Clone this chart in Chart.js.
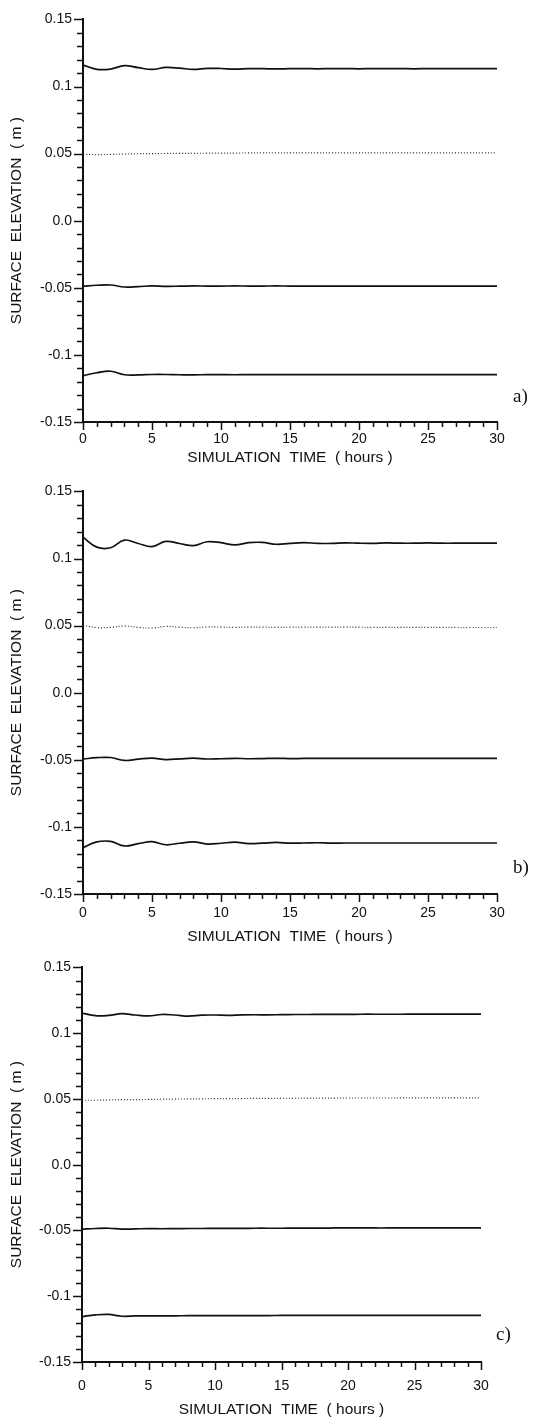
<!DOCTYPE html>
<html>
<head>
    <title>Surface Elevation</title>
    <script src="https://cdn.jsdelivr.net/npm/chart.js"></script>
    <style>
        body { margin: 0; background: #fff; }
        .panel { position: absolute; left: 0; width: 542px; }
        .tag { position: absolute; font-family: 'Liberation Serif', serif; font-size: 19px; color: #111; }
    </style>
</head>
<body>
    <div class="panel" id="boxA"><canvas id="chartA"></canvas></div>
    <div class="panel" id="boxB"><canvas id="chartB"></canvas></div>
    <div class="panel" id="boxC"><canvas id="chartC"></canvas></div>
    <div class="tag" style="left:513px; top:385px;">a)</div>
    <div class="tag" style="left:513px; top:856px;">b)</div>
    <div class="tag" style="left:496px; top:1323px;">c)</div>

    <script>
        // time axis (hours)
        const hours = [0,1,2,3,4,5,6,7,8,9,10,11,12,13,14,15,16,17,18,19,20,21,22,23,24,25,26,27,28,29,30];
        const xTickValues = [0, 5, 10, 15, 20, 25, 30];
        const yTickValues = [-0.15, -0.1, -0.05, 0, 0.05, 0.1, 0.15];
        const yTickLabels = ['-0.15', '-0.1', '-0.05', '0.0', '0.05', '0.1', '0.15'];

        // panel a)
        const aTop = [0.1160,0.1128,0.1130,0.1155,0.1140,0.1127,0.1142,0.1137,0.1127,0.1135,0.1134,0.1129,0.1133,0.1133,0.1131,0.1133,0.1133,0.1132,0.1133,0.1133,0.1132,0.1133,0.1133,0.1133,0.1132,0.1133,0.1133,0.1133,0.1133,0.1133,0.1133];
        const aDot = [0.0495,0.0493,0.0494,0.0497,0.0499,0.0500,0.0501,0.0502,0.0502,0.0503,0.0504,0.0504,0.0505,0.0505,0.0505,0.0505,0.0505,0.0505,0.0505,0.0505,0.0505,0.0505,0.0505,0.0505,0.0505,0.0505,0.0505,0.0505,0.0505,0.0505,0.0505];
        const aMid = [-0.0488,-0.0481,-0.0479,-0.0494,-0.0491,-0.0486,-0.0489,-0.0488,-0.0486,-0.0487,-0.0487,-0.0486,-0.0487,-0.0487,-0.0486,-0.0487,-0.0487,-0.0487,-0.0487,-0.0487,-0.0487,-0.0487,-0.0487,-0.0487,-0.0487,-0.0487,-0.0487,-0.0487,-0.0487,-0.0487,-0.0487];
        const aLow = [-0.1155,-0.1133,-0.1122,-0.1148,-0.1149,-0.1146,-0.1146,-0.1148,-0.1149,-0.1147,-0.1147,-0.1148,-0.1147,-0.1147,-0.1147,-0.1147,-0.1147,-0.1147,-0.1147,-0.1147,-0.1147,-0.1147,-0.1147,-0.1147,-0.1147,-0.1147,-0.1147,-0.1147,-0.1147,-0.1147,-0.1147];

        // panel b)
        const bTop = [0.1158,0.1085,0.1080,0.1137,0.1112,0.1088,0.1127,0.1112,0.1096,0.1125,0.1118,0.1101,0.1118,0.1120,0.1106,0.1113,0.1118,0.1113,0.1112,0.1117,0.1114,0.1113,0.1116,0.1114,0.1114,0.1116,0.1114,0.1114,0.1115,0.1114,0.1115];
        const bDot = [0.0503,0.0485,0.0487,0.0497,0.0487,0.0482,0.0494,0.0488,0.0484,0.0490,0.0489,0.0487,0.0489,0.0489,0.0487,0.0488,0.0488,0.0488,0.0488,0.0488,0.0488,0.0487,0.0487,0.0487,0.0487,0.0487,0.0487,0.0486,0.0486,0.0486,0.0486];
        const bMid = [-0.0495,-0.0484,-0.0483,-0.0505,-0.0495,-0.0487,-0.0498,-0.0493,-0.0488,-0.0494,-0.0492,-0.0489,-0.0492,-0.0491,-0.0489,-0.0491,-0.0490,-0.0490,-0.0490,-0.0490,-0.0490,-0.0490,-0.0490,-0.0490,-0.0490,-0.0490,-0.0490,-0.0490,-0.0490,-0.0490,-0.0490];
        const bLow = [-0.1155,-0.1112,-0.1108,-0.1142,-0.1125,-0.1110,-0.1133,-0.1122,-0.1111,-0.1128,-0.1122,-0.1114,-0.1124,-0.1121,-0.1116,-0.1121,-0.1120,-0.1118,-0.1121,-0.1120,-0.1120,-0.1120,-0.1120,-0.1120,-0.1120,-0.1120,-0.1120,-0.1120,-0.1120,-0.1120,-0.1120];

        // panel c)
        const cTop = [0.1153,0.1133,0.1135,0.1148,0.1138,0.1131,0.1142,0.1138,0.1130,0.1137,0.1138,0.1136,0.1139,0.1140,0.1139,0.1141,0.1142,0.1142,0.1143,0.1143,0.1143,0.1144,0.1144,0.1144,0.1144,0.1145,0.1145,0.1145,0.1145,0.1145,0.1145];
        const cDot = [0.0490,0.0490,0.0492,0.0495,0.0495,0.0496,0.0498,0.0499,0.0500,0.0501,0.0502,0.0503,0.0503,0.0504,0.0504,0.0505,0.0505,0.0506,0.0506,0.0506,0.0507,0.0507,0.0507,0.0507,0.0508,0.0508,0.0508,0.0508,0.0508,0.0508,0.0508];
        const cMid = [-0.0490,-0.0485,-0.0483,-0.0490,-0.0488,-0.0486,-0.0487,-0.0486,-0.0485,-0.0485,-0.0484,-0.0484,-0.0484,-0.0483,-0.0483,-0.0483,-0.0482,-0.0482,-0.0482,-0.0481,-0.0481,-0.0481,-0.0481,-0.0481,-0.0480,-0.0480,-0.0480,-0.0480,-0.0480,-0.0480,-0.0480];
        const cLow = [-0.1155,-0.1142,-0.1138,-0.1152,-0.1150,-0.1149,-0.1149,-0.1149,-0.1148,-0.1148,-0.1148,-0.1147,-0.1147,-0.1147,-0.1147,-0.1146,-0.1146,-0.1146,-0.1146,-0.1146,-0.1146,-0.1146,-0.1145,-0.1145,-0.1145,-0.1145,-0.1145,-0.1145,-0.1145,-0.1145,-0.1145];

        const panels = [
            { canvas: 'chartA', box: 'boxA', top: 0,   height: 472, areaTop: 15,  areaBottom: 422,  left: 83, right: 497, labelPad: 10, titleY: 458, series: [aTop, aDot, aMid, aLow] },
            { canvas: 'chartB', box: 'boxB', top: 472, height: 476, areaTop: 485, areaBottom: 894,  left: 83, right: 497, labelPad: 12, titleY: 937, series: [bTop, bDot, bMid, bLow] },
            { canvas: 'chartC', box: 'boxC', top: 948, height: 475, areaTop: 958, areaBottom: 1362, left: 82, right: 481, labelPad: 17, titleY: 1410, series: [cTop, cDot, cMid, cLow] }
        ];

        const ink = '#111';

        // minor and major tick marks, drawn outside the axes
        const tickMarks = {
            id: 'tickMarks',
            afterDraw(chart) {
                const { ctx, scales: { x, y }, chartArea: area } = chart;
                ctx.save();
                ctx.strokeStyle = ink;
                ctx.lineWidth = 1.5;
                ctx.beginPath();
                for (let i = 0; i <= 30; i++) {
                    const px = Math.round(x.getPixelForValue(i)) + 0.5;
                    const len = i % 5 === 0 ? 8 : 5;
                    ctx.moveTo(px, area.bottom);
                    ctx.lineTo(px, area.bottom + len);
                }
                for (let i = -15; i <= 15; i++) {
                    const py = Math.round(y.getPixelForValue(i / 100)) + 0.5;
                    const len = i % 5 === 0 ? 9 : 6;
                    ctx.moveTo(area.left, py);
                    ctx.lineTo(area.left - len, py);
                }
                ctx.stroke();
                ctx.restore();
            }
        };

        function makeDataset(values, dotted) {
            return {
                data: hours.map((h, i) => ({ x: h, y: values[i] })),
                borderColor: dotted ? '#2a2a2a' : ink,
                borderWidth: dotted ? 1.2 : 1.7,
                borderDash: dotted ? [1, 2] : [],
                pointRadius: 0,
                tension: 0.4,
                fill: false
            };
        }

        panels.forEach(p => {
            const box = document.getElementById(p.box);
            box.style.top = p.top + 'px';
            box.style.height = p.height + 'px';

            const xAxisHeight = p.titleY + 9 - p.areaBottom;
            const padBottom = p.height - (p.areaBottom - p.top) - xAxisHeight;

            new Chart(document.getElementById(p.canvas), {
                type: 'line',
                data: {
                    datasets: p.series.map((s, i) => makeDataset(s, i === 1))
                },
                options: {
                    responsive: true,
                    maintainAspectRatio: false,
                    animation: false,
                    layout: {
                        padding: { top: p.areaTop - p.top, bottom: padBottom, left: 0, right: 542 - p.right }
                    },
                    plugins: {
                        legend: { display: false },
                        tooltip: { enabled: false }
                    },
                    scales: {
                        x: {
                            type: 'linear',
                            min: 0,
                            max: 30,
                            afterBuildTicks: s => { s.ticks = xTickValues.map(v => ({ value: v })); },
                            afterFit: s => { s.height = xAxisHeight; },
                            grid: { display: true, drawOnChartArea: false, drawTicks: false },
                            border: { color: ink, width: 2 },
                            ticks: {
                                autoSkip: false,
                                maxRotation: 0,
                                padding: p.labelPad - 1,
                                color: ink,
                                font: { family: 'Liberation Sans', size: 14 },
                                callback: v => String(v)
                            },
                            title: {
                                display: true,
                                text: 'SIMULATION  TIME  ( hours )',
                                color: ink,
                                padding: { top: 0, bottom: 0 },
                                font: { family: 'Liberation Sans', size: 15.5 }
                            }
                        },
                        y: {
                            type: 'linear',
                            min: -0.15,
                            max: 0.15,
                            afterBuildTicks: s => { s.ticks = yTickValues.map(v => ({ value: v })); },
                            afterFit: s => { s.width = p.left; },
                            grid: { display: true, drawOnChartArea: false, drawTicks: false },
                            border: { color: ink, width: 2 },
                            ticks: {
                                autoSkip: false,
                                padding: 11,
                                color: ink,
                                font: { family: 'Liberation Sans', size: 14 },
                                callback: (v, i) => yTickLabels[i]
                            },
                            title: {
                                display: true,
                                text: 'SURFACE  ELEVATION  ( m )',
                                color: ink,
                                padding: { top: 7, bottom: 0 },
                                font: { family: 'Liberation Sans', size: 15.5 }
                            }
                        }
                    }
                },
                plugins: [tickMarks]
            });
        });
    </script>
</body>
</html>
